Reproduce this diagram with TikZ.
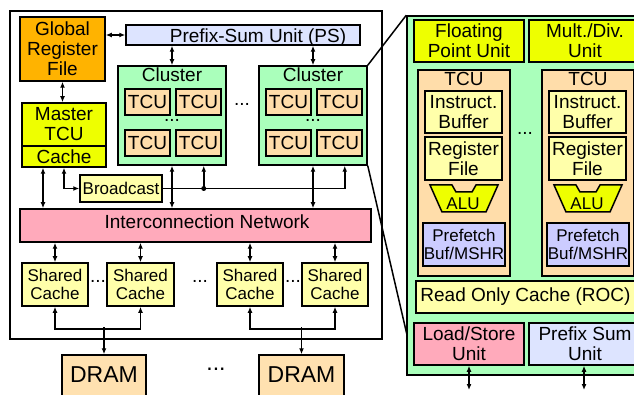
\documentclass[tikz,border=0pt]{standalone}
\usepackage{fontspec}
\setmainfont{Liberation Sans}
\usepackage{tikz}
\usetikzlibrary{arrows.meta}

\definecolor{grfcol}{HTML}{FFB300}
\definecolor{limecol}{HTML}{EEFF00}
\definecolor{clustcol}{HTML}{AAFFBB}
\definecolor{tcucol}{HTML}{FFDDAA}
\definecolor{paleyel}{HTML}{FFFFAA}
\definecolor{netcol}{HTML}{FFAABB}
\definecolor{pscol}{HTML}{DDE4FF}
\definecolor{pfcol}{HTML}{CCCCFF}
\definecolor{dramcol}{HTML}{FFE1B0}

\begin{document}
\begin{tikzpicture}[x=1pt, y=-1pt,
  font=\fontsize{19}{20}\selectfont,
  box/.style={draw=black, line width=1.5pt, inner sep=0pt, align=center},
  small/.style={font=\fontsize{17}{18}\selectfont},
  link/.style={line width=1.5pt},
  >={Latex[length=6pt,width=5pt]}]
\clip (0,0) rectangle (634,395);

% chip frame
\node (chip) [draw, line width=2pt, minimum width=372, minimum height=328] at (196,175) {};

% global register file, prefix-sum, master TCU
\node (grf) [box, fill=grfcol, minimum width=85, minimum height=64] at (62.5,49) {Global\\Register\\File};
\node (ps) [box, fill=pscol, minimum width=234, minimum height=20] at (243,35) {};
\node (pslabel) [anchor=base] at (258,43) {Prefix-Sum Unit (PS)};
\node (mtcu) [box, fill=limecol, minimum width=84, minimum height=43] at (64,124.5) {Master\\TCU};
\node (mcache) [box, fill=limecol, minimum width=84, minimum height=21] at (64,156.5) {Cache};

% clusters
\node (cl1) [box, fill=clustcol, minimum width=108, minimum height=99,
  label={[anchor=north, inner sep=2.5pt]north:Cluster}] at (172,115.5) {};
\node (cl2) [box, fill=clustcol, minimum width=108, minimum height=99,
  label={[anchor=north, inner sep=2.5pt]north:Cluster}] at (313,115.5) {};
\node (tcuAa) [box, fill=tcucol, minimum width=45, minimum height=26] at (147.5,102) {TCU};
\node (tcuAb) [box, fill=tcucol, minimum width=45, minimum height=26] at (198.5,102) {TCU};
\node (tcuAc) [box, fill=tcucol, minimum width=45, minimum height=26] at (147.5,143) {TCU};
\node (tcuAd) [box, fill=tcucol, minimum width=45, minimum height=26] at (198.5,143) {TCU};
\node (tcuBa) [box, fill=tcucol, minimum width=45, minimum height=26] at (288.5,102) {TCU};
\node (tcuBb) [box, fill=tcucol, minimum width=45, minimum height=26] at (339.5,102) {TCU};
\node (tcuBc) [box, fill=tcucol, minimum width=45, minimum height=26] at (288.5,143) {TCU};
\node (tcuBd) [box, fill=tcucol, minimum width=45, minimum height=26] at (339.5,143) {TCU};
\node (dotsA) at (172,120) {...};
\node (dotsB) at (313,120) {...};
\node (dotsC) at (242,104) {...};

% broadcast and network
\node (bcast) [box, small, fill=paleyel, minimum width=82, minimum height=27] at (121,188.5) {Broadcast};
\node (net) [box, fill=netcol, minimum width=351, minimum height=33] at (195.5,225.5) {};
\node (netlabel) [anchor=base] at (207,229) {Interconnection Network};

% shared caches and DRAM
\node (scA) [box, small, fill=paleyel, minimum width=66, minimum height=43] at (55,284.5) {Shared\\Cache};
\node (scB) [box, small, fill=paleyel, minimum width=67, minimum height=43] at (140.5,284.5) {Shared\\Cache};
\node (scC) [box, small, fill=paleyel, minimum width=66, minimum height=43] at (250,284.5) {Shared\\Cache};
\node (scD) [box, small, fill=paleyel, minimum width=66, minimum height=43] at (335,284.5) {Shared\\Cache};
\node (dotsD) at (98,281) {...};
\node (dotsE) at (200,281) {...};
\node (dotsF) at (293,281) {...};
\node (drA) [box, fill=dramcol, font=\fontsize{23}{24}\selectfont, text depth=10pt,
  minimum width=84, minimum height=50] at (104,380) {DRAM};
\node (drB) [box, fill=dramcol, font=\fontsize{23}{24}\selectfont, text depth=10pt,
  minimum width=85, minimum height=50] at (301.5,380) {DRAM};
\node (dotsG) [font=\fontsize{23}{24}\selectfont] at (216,369) {...};

% draws connectors of the chip
\draw[link,<->] (grf.east |- ps.west) -- (ps.west);
\draw[link,<->] (grf.south) -- (grf.south |- mtcu.north);
\draw[link,<->] (ps.south -| cl1.north) -- (cl1.north);
\draw[link,<->] (ps.south -| cl2.north) -- (cl2.north);
\draw[link,<->] ([xshift=-21pt]mcache.south) -- ([xshift=-21pt]mcache.south |- net.north);
\draw[link,<->] (mcache.south) |- (bcast.west);
\draw[link,<->] (cl1.south) -- (cl1.south |- net.north);
\draw[link,<->] (cl2.south) -- (cl2.south |- net.north);
\draw[link,->] (bcast.east) -| ([xshift=-23pt]cl2.south east);
\draw[link,->] ([xshift=-23pt]cl1.south east |- bcast.east) -- ([xshift=-23pt]cl1.south east);
\fill ([xshift=-23pt]cl1.south east |- bcast.east) circle (2.5);
\draw[link,<->] (scA.north |- net.south) -- (scA.north);
\draw[link,<->] (scB.north |- net.south) -- (scB.north);
\draw[link,<->] (scC.north |- net.south) -- (scC.north);
\draw[link,<->] (scD.north |- net.south) -- (scD.north);
\draw[link,<->] (scA.south) -- ++(0,22) -| (scB.south);
\draw[link,<->] (scC.south) -- ++(0,22) -| (scD.south);
\draw[link,->] ([yshift=27pt]drA.north) -- (drA.north);
\draw[link,->] ([yshift=27pt]drB.north) -- (drB.north);

% TCU close-up
\node (core) [box, fill=clustcol, minimum width=235, minimum height=359] at (524.5,195.5) {};
\coordinate (zoomlow) at (407,335);
\draw[link] (cl2.north east) -- (core.north west);
\draw[link] (cl2.south east) -- (zoomlow);
\node (fpu) [box, fill=limecol, minimum width=110, minimum height=42] at (469,41) {Floating\\Point Unit};
\node (mdu) [box, fill=limecol, minimum width=112, minimum height=42] at (585,41) {Mult./Div.\\Unit};
\node (tcuL) [box, fill=tcucol, minimum width=92, minimum height=206,
  label={[anchor=north, inner sep=2.5pt]north:TCU}] at (464,173) {};
\node (tcuR) [box, fill=tcucol, minimum width=92, minimum height=206,
  label={[anchor=north, inner sep=2.5pt]north:TCU}] at (588,173) {};
\node (ibL) [box, fill=paleyel, minimum width=77, minimum height=42] at (463.5,112) {Instruct.\\Buffer};
\node (ibR) [box, fill=paleyel, minimum width=77, minimum height=42] at (587.5,112) {Instruct.\\Buffer};
\node (rfL) [box, fill=paleyel, minimum width=77, minimum height=43] at (463.5,158.5) {Register\\File};
\node (rfR) [box, fill=paleyel, minimum width=77, minimum height=43] at (587.5,158.5) {Register\\File};
\coordinate (aluL) at (464,185);
\coordinate (aluR) at (588,185);
\draw[line width=1.5pt, fill=limecol] (aluL) ++(-34,0) -- ++(22,0) -- ++(4,7) -- ++(16,0) -- ++(4,-7)
  -- ++(22,0) -- ++(-12,27) -- ++(-44,0) -- cycle;
\draw[line width=1.5pt, fill=limecol] (aluR) ++(-34,0) -- ++(22,0) -- ++(4,7) -- ++(16,0) -- ++(4,-7)
  -- ++(22,0) -- ++(-12,27) -- ++(-44,0) -- cycle;
\node (aluLtext) [small, anchor=base] at (463,210) {ALU};
\node (aluRtext) [small, anchor=base] at (587,210) {ALU};
\node (pfL) [box, small, fill=pfcol, minimum width=82, minimum height=43] at (464,244.5) {Prefetch\\Buf/MSHR};
\node (pfR) [box, small, fill=pfcol, minimum width=82, minimum height=43] at (588,244.5) {Prefetch\\Buf/MSHR};
\node (dotsH) at (525,133) {...};
\node (roc) [box, fill=paleyel, minimum width=219, minimum height=32] at (525.5,297) {Read Only Cache (ROC)};
\node (lsu) [box, fill=netcol, minimum width=110, minimum height=42] at (469,344) {Load/Store\\Unit};
\node (psu) [box, fill=pscol, minimum width=112, minimum height=42] at (585,344) {Prefix Sum\\Unit};
\coordinate (lsuout) at (469,390);
\coordinate (psuout) at (584,390);
\draw[link,<->] (lsu.south) -- (lsuout);
\draw[link,<->] (psu.south -| psuout) -- (psuout);
\end{tikzpicture}
\end{document}
